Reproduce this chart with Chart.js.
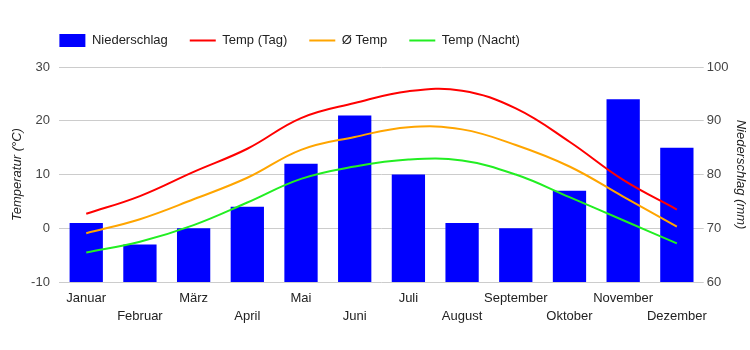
<!DOCTYPE html>
<html>
<head>
<meta charset="utf-8">
<script src="https://cdn.jsdelivr.net/npm/chart.js@4"></script>
<style>
  html, body { margin: 0; padding: 0; background: #fff; }
  #wrap { width: 750px; height: 350px; }
</style>
</head>
<body>
<div id="wrap"><canvas id="klimaChart"></canvas></div>
<script>
// Monate
const months = ['Januar', 'Februar', 'März', 'April', 'Mai', 'Juni', 'Juli', 'August', 'September', 'Oktober', 'November', 'Dezember'];

// Niederschlag (mm), rechte Achse
const rain = [71, 67, 70, 74, 82, 91, 80, 71, 70, 77, 94, 85];

// Temperaturen (°C), linke Achse
const tempDay = [2.7, 6.0, 10.5, 14.8, 20.5, 23.3, 25.5, 25.6, 22.3, 16.1, 9.0, 3.5];
const tempAvg = [-0.9, 1.7, 5.4, 9.4, 14.6, 17.0, 18.8, 18.4, 15.5, 11.5, 5.9, 0.3];
const tempNight = [-4.5, -2.5, 0.6, 4.8, 9.2, 11.5, 12.8, 12.6, 10.0, 5.8, 1.5, -2.8];

// Achsenticks
const tempTicks = [-10, 0, 10, 20, 30];
const rainTicks = [60, 70, 80, 90, 100];

const FONT = 'Arial, "Liberation Sans", sans-serif';
Chart.defaults.font.family = FONT;
Chart.defaults.font.size = 13;

// Legende: bündig mit der Plotfläche beginnen und etwas mehr Abstand nach unten
const legendTweak = {
    id: 'legendTweak',
    beforeInit(chart) {
        const lg = chart.legend;
        if (!lg) return;
        const fit = lg.fit;
        lg.fit = function () {
            fit.call(this);
            this.height += 10;
        };
    },
    afterLayout(chart) {
        const lg = chart.legend;
        if (!lg) return;
        const dx = chart.chartArea.left - lg.options.labels.padding - lg.left;
        lg.left += dx;
        lg.right += dx;
    }
};

const ctx = document.getElementById('klimaChart').getContext('2d');
new Chart(ctx, {
    data: {
        labels: months,
        datasets: [
            {
                type: 'bar',
                label: 'Niederschlag',
                data: rain,
                yAxisID: 'y1',
                backgroundColor: '#0000ff',
                borderWidth: 0,
                barPercentage: 0.62,
                categoryPercentage: 1,
                pointStyle: 'rect',
                order: 1
            },
            {
                type: 'line',
                label: 'Temp (Tag)',
                data: tempDay,
                yAxisID: 'y',
                borderColor: '#ff0000',
                backgroundColor: '#ff0000',
                borderWidth: 2,
                pointRadius: 0,
                tension: 0.4,
                pointStyle: 'line',
                order: 0
            },
            {
                type: 'line',
                label: 'Ø Temp',
                data: tempAvg,
                yAxisID: 'y',
                borderColor: '#ffa500',
                backgroundColor: '#ffa500',
                borderWidth: 2,
                pointRadius: 0,
                tension: 0.4,
                pointStyle: 'line',
                order: 0
            },
            {
                type: 'line',
                label: 'Temp (Nacht)',
                data: tempNight,
                yAxisID: 'y',
                borderColor: '#22ee22',
                backgroundColor: '#22ee22',
                borderWidth: 2,
                pointRadius: 0,
                tension: 0.4,
                pointStyle: 'line',
                order: 0
            }
        ]
    },
    options: {
        responsive: true,
        maintainAspectRatio: false,
        animation: false,
        layout: { padding: { left: 0, right: 0, top: 12, bottom: 17.5 } },
        scales: {
            x: {
                grid: { display: false, drawTicks: false, tickLength: 0 },
                border: { display: false },
                ticks: {
                    autoSkip: false,
                    maxRotation: 0,
                    color: '#222',
                    padding: 7,
                    font: { size: 13, lineHeight: 1.4 },
                    callback: function (v, i) {
                        const name = months[i];
                        return i % 2 === 0 ? [name, ''] : ['', name];
                    }
                }
            },
            y: {
                position: 'left',
                min: tempTicks[0],
                max: tempTicks[tempTicks.length - 1],
                afterBuildTicks: (axis) => { axis.ticks = tempTicks.map(v => ({ value: v })); },
                grid: { color: '#cccccc', drawTicks: false, tickLength: 0 },
                border: { display: false },
                ticks: { color: '#444', padding: 9.5 },
                title: {
                    display: true,
                    text: 'Temperatur (°C)',
                    color: '#222',
                    font: { style: 'italic', size: 13 },
                    padding: { top: 10, bottom: -4 }
                }
            },
            y1: {
                position: 'right',
                min: rainTicks[0],
                max: rainTicks[rainTicks.length - 1],
                afterBuildTicks: (axis) => { axis.ticks = rainTicks.map(v => ({ value: v })); },
                grid: { display: true, drawOnChartArea: false, drawTicks: false, tickLength: 0 },
                border: { display: false },
                ticks: { color: '#444', padding: 3 },
                title: {
                    display: true,
                    text: 'Niederschlag (mm)',
                    color: '#222',
                    font: { style: 'italic', size: 13 },
                    padding: { top: 2, bottom: 1 }
                }
            }
        },
        plugins: {
            legend: {
                display: true,
                position: 'top',
                align: 'start',
                labels: {
                    usePointStyle: true,
                    pointStyleWidth: 26,
                    boxWidth: 26,
                    boxHeight: 13,
                    padding: 22,
                    color: '#222',
                    font: { size: 13 },
                    sort: (a, b) => a.datasetIndex - b.datasetIndex
                }
            },
            tooltip: { enabled: false }
        }
    },
    plugins: [legendTweak]
});
</script>
</body>
</html>
